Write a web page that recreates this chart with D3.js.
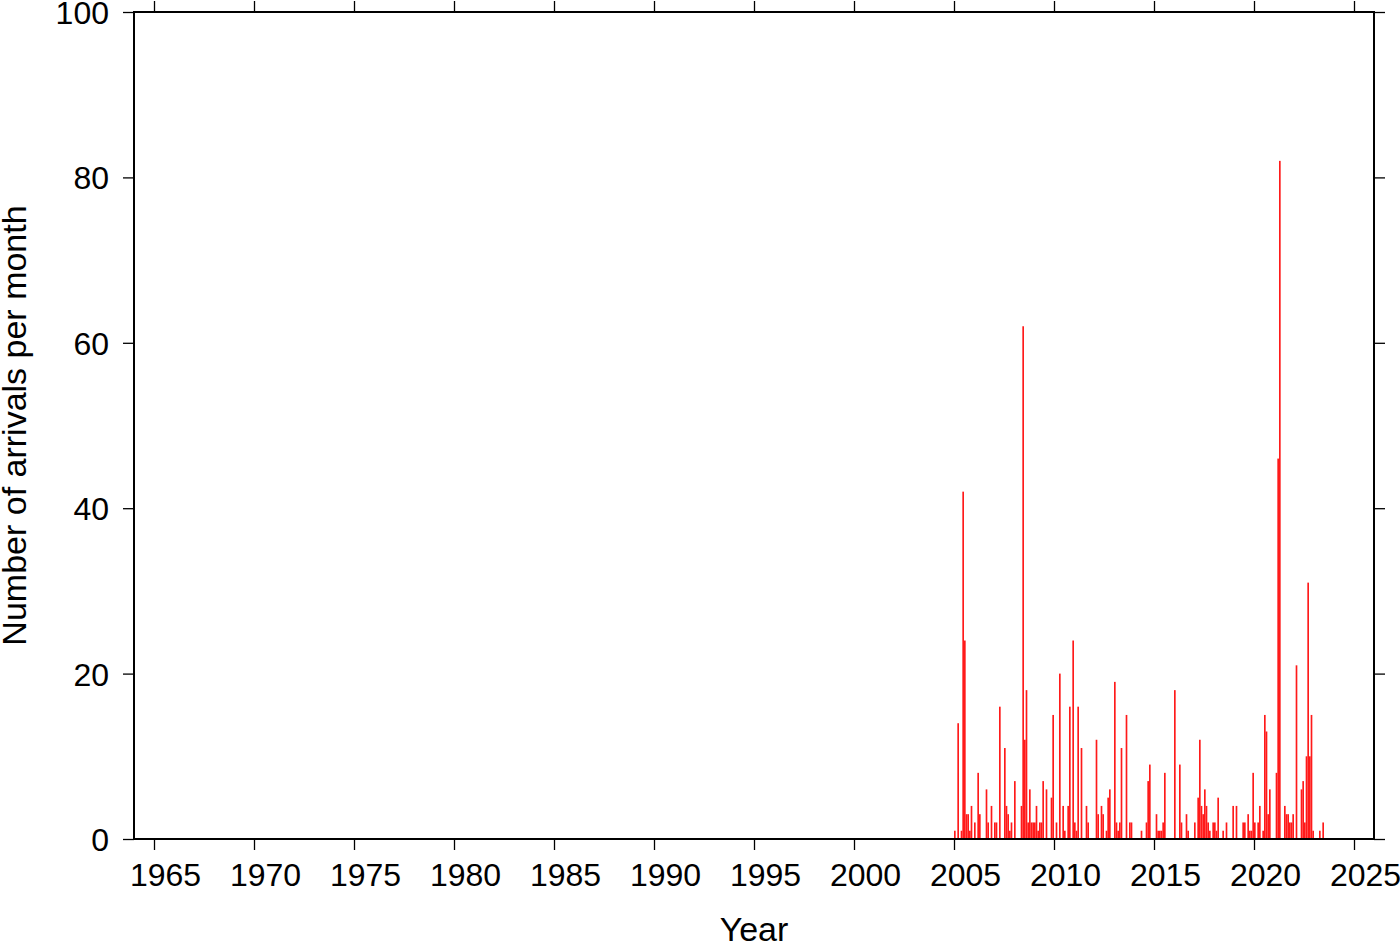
<!DOCTYPE html>
<html><head><meta charset="utf-8">
<script src="https://cdn.jsdelivr.net/npm/d3@7"></script>
<style>html,body{margin:0;padding:0;background:#fff;} svg{display:block;}</style>
</head><body>
<svg id="chart" width="1400" height="942"></svg>
<script>
const months = ["2005-01","2005-03","2005-05","2005-06","2005-07","2005-08","2005-09","2005-10","2005-11",
"2006-01","2006-03","2006-04","2006-08","2006-09","2006-11",
"2007-01","2007-02","2007-04","2007-07","2007-08","2007-09","2007-10","2007-11",
"2008-01","2008-05","2008-06","2008-07","2008-08","2008-09","2008-10","2008-11","2008-12",
"2009-01","2009-02","2009-03","2009-04","2009-05","2009-06","2009-08","2009-11","2009-12",
"2010-02","2010-04","2010-06","2010-07","2010-09","2010-10","2010-12",
"2011-01","2011-02","2011-03","2011-05","2011-08","2011-09",
"2012-02","2012-03","2012-05","2012-06","2012-08","2012-09","2012-10",
"2013-01","2013-02","2013-03","2013-04","2013-05","2013-08","2013-10","2013-11",
"2014-05","2014-08","2014-09","2014-10",
"2015-02","2015-03","2015-04","2015-05","2015-06","2015-07",
"2016-01","2016-04","2016-05","2016-08","2016-09",
"2017-01","2017-03","2017-04","2017-05","2017-06","2017-07","2017-08","2017-09","2017-10","2017-12",
"2018-01","2018-02","2018-03","2018-06","2018-08","2018-12",
"2019-02","2019-06","2019-07","2019-09","2019-10","2019-11","2019-12",
"2020-01","2020-03","2020-04","2020-06","2020-07","2020-08","2020-09","2020-10",
"2021-02","2021-03","2021-04","2021-07","2021-08","2021-09","2021-10","2021-11","2021-12",
"2022-02","2022-05","2022-06","2022-07","2022-08","2022-09","2022-10","2022-11","2022-12",
"2023-04","2023-06"];
const arrivals = [1,14,1,42,24,3,3,1,4,
2,8,3,6,2,4,
2,2,16,11,4,3,1,2,
7,4,62,12,18,2,6,2,2,
2,4,1,2,2,7,6,5,15,
2,20,4,1,4,16,24,
2,1,16,11,4,2,
12,3,4,3,1,5,6,
19,2,1,2,11,15,2,2,
1,2,7,9,
3,1,1,1,2,8,
18,9,2,3,1,
2,5,12,4,3,6,4,2,1,2,
2,1,5,1,2,4,
4,2,2,3,1,1,8,
2,2,4,1,15,13,3,6,
8,46,82,4,3,3,2,2,3,
21,6,7,2,10,31,10,15,1,
1,2];
const xTicks = [1965,1970,1975,1980,1985,1990,1995,2000,2005,2010,2015,2020,2025];
const yTicks = [0,20,40,60,80,100];

const svg = d3.select("#chart");
const L = 134, R = 1374, T = 12, B = 839;
const x = d3.scaleLinear().domain([1964, 2026]).range([L, R]);
const y = d3.scaleLinear().domain([0, 100]).range([B, T]);
const font = "'Liberation Sans', Arial, Helvetica, sans-serif";

const data = months.map((m, i) => {
  const [yy, mm] = m.split("-").map(Number);
  return {t: yy + (mm - 1) / 12, v: arrivals[i]};
});
const bw = x(1964 + 1/12) - x(1964);

svg.append("g").selectAll("rect").data(data).join("rect")
  .attr("x", d => x(d.t))
  .attr("width", bw)
  .attr("y", d => y(d.v))
  .attr("height", d => y(0) - y(d.v))
  .attr("fill", "#ff1a1a");

const tl = 11;
const gb = svg.append("g").attr("transform", `translate(0,${B})`)
  .call(d3.axisBottom(x).tickValues(xTicks).tickFormat(d3.format("d")).tickSize(tl).tickPadding(4));
const gt = svg.append("g").attr("transform", `translate(0,${T})`)
  .call(d3.axisTop(x).tickValues(xTicks).tickFormat("").tickSize(tl));
const gl = svg.append("g").attr("transform", `translate(${L},0)`)
  .call(d3.axisLeft(y).tickValues(yTicks).tickFormat(d3.format("d")).tickSize(tl).tickPadding(14));
const gr = svg.append("g").attr("transform", `translate(${R},0)`)
  .call(d3.axisRight(y).tickValues(yTicks).tickFormat("").tickSize(tl));

[gb, gt, gl, gr].forEach(g => {
  g.select(".domain").remove();
  g.selectAll(".tick line").attr("stroke", "#000").attr("stroke-width", 1.3);
  g.selectAll("text").attr("fill", "#000").style("font-family", font).style("font-size", "32px");
});
gb.selectAll("text").attr("dy", "1.0em").attr("dx", 11);
gl.selectAll("text").attr("dy", "0.36em");

svg.append("rect").attr("x", L).attr("y", T).attr("width", R - L).attr("height", B - T)
  .attr("fill", "none").attr("stroke", "#000").attr("stroke-width", 2);

svg.append("text").attr("x", (L + R) / 2).attr("y", 941)
  .attr("text-anchor", "middle").style("font-family", font).style("font-size", "34px")
  .text("Year");
svg.append("text").attr("transform", `translate(26,${(T + B) / 2}) rotate(-90)`)
  .attr("text-anchor", "middle").style("font-family", font).style("font-size", "34px")
  .text("Number of arrivals per month");
</script>
</body></html>
